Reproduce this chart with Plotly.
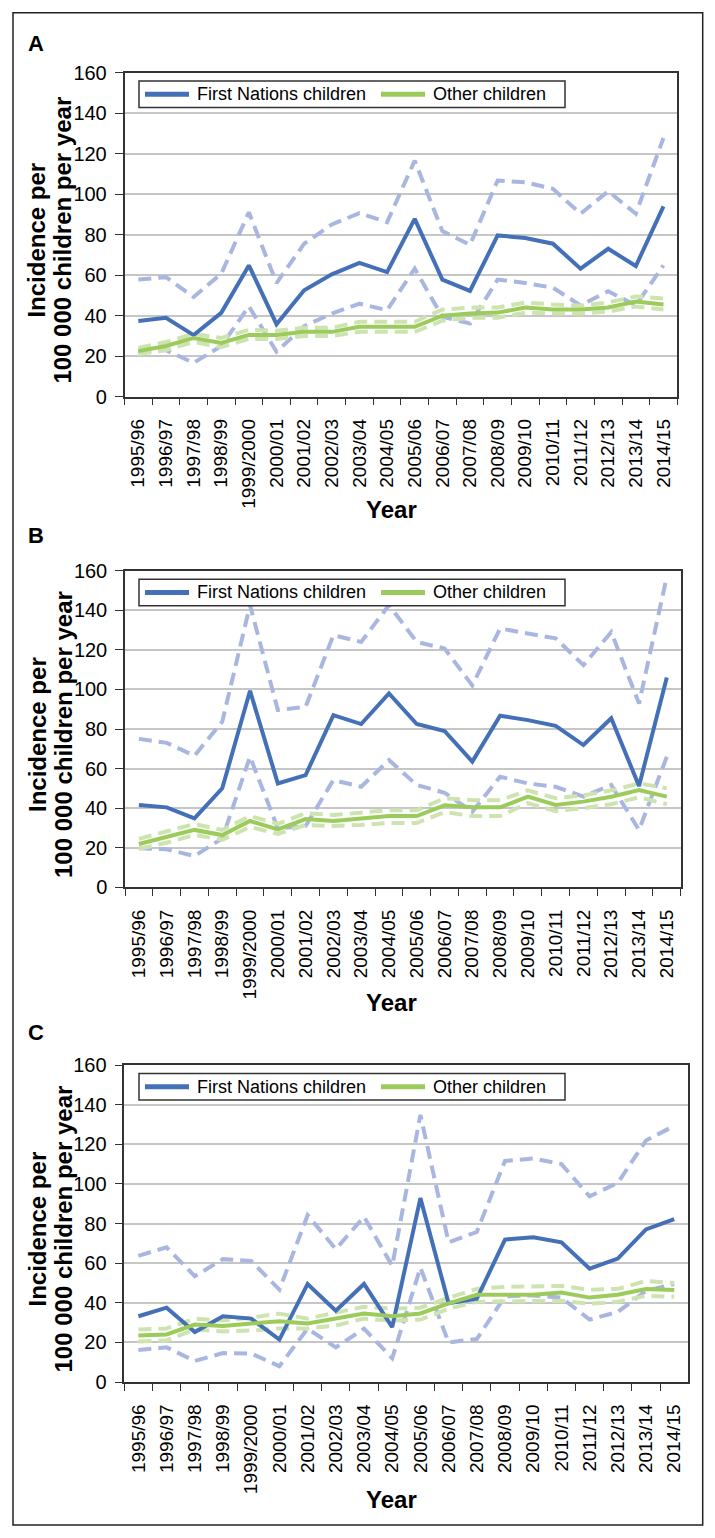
import plotly.graph_objects as go

W, H = 715, 1538
OFF = 8  # the page body margin shifts the figure by 8px

years = ["1995/96", "1996/97", "1997/98", "1998/99", "1999/2000", "2000/01",
         "2001/02", "2002/03", "2003/04", "2004/05", "2005/06", "2006/07",
         "2007/08", "2008/09", "2009/10", "2010/11", "2011/12", "2012/13",
         "2013/14", "2014/15"]
y_ticks = [0, 20, 40, 60, 80, 100, 120, 140, 160]

# Panel A
fn_a = [37.4, 38.9, 30.4, 41.4, 64.8, 35.8, 52.5, 60.4, 66.0, 61.5,
        87.8, 57.8, 52.2, 79.6, 78.3, 75.5, 63.2, 73.0, 64.5, 93.9]
fn_a_hi = [57.8, 59.0, 49.2, 60.7, 91.0, 56.1, 75.5, 85.0, 90.6, 86.1,
           116.5, 81.7, 75.0, 106.7, 105.8, 102.6, 90.3, 101.4, 90.3, 127.7]
fn_a_lo = [22.2, 23.0, 16.7, 25.0, 44.6, 22.2, 34.8, 41.0, 45.9, 42.7,
           63.2, 39.4, 36.1, 57.8, 56.1, 53.8, 45.1, 52.0, 45.1, 64.8]
oth_a = [22.5, 25.0, 29.0, 26.5, 30.5, 30.5, 32.0, 32.0, 34.5, 34.5,
         34.5, 40.0, 41.0, 41.5, 44.0, 43.0, 43.0, 44.0, 47.0, 45.5]
oth_a_hi = [24.0, 27.0, 31.0, 29.0, 33.0, 32.5, 34.0, 34.0, 37.0, 37.0,
            37.0, 43.0, 44.0, 44.0, 46.5, 45.5, 45.0, 46.5, 49.5, 48.5]
oth_a_lo = [21.0, 23.0, 27.0, 24.5, 28.5, 28.5, 30.0, 30.0, 32.0, 32.0,
            32.0, 37.5, 39.0, 39.0, 41.5, 41.0, 41.0, 42.0, 44.5, 43.0]

# Panel B
fn_b = [41.6, 40.4, 34.8, 50.0, 99.3, 52.5, 56.7, 87.0, 82.5, 98.0,
        82.5, 79.0, 63.5, 86.7, 84.5, 81.6, 71.9, 85.4, 51.2, 106.0]
fn_b_hi = [75.0, 73.0, 66.5, 83.7, 142.6, 89.6, 91.2, 127.4, 124.0, 142.6,
           124.0, 120.7, 102.0, 130.8, 128.3, 125.8, 112.3, 129.0, 92.9, 157.0]
fn_b_lo = [19.7, 19.2, 15.8, 24.7, 66.0, 29.8, 31.0, 54.2, 50.8, 64.3,
           51.7, 47.8, 38.2, 55.9, 52.5, 50.8, 45.8, 51.7, 29.0, 66.0]
oth_b = [21.9, 25.3, 29.0, 26.4, 33.5, 29.3, 34.5, 33.5, 34.5, 36.0,
         36.0, 41.4, 40.4, 40.4, 45.8, 41.6, 43.3, 45.8, 49.2, 45.8]
oth_b_hi = [24.5, 28.0, 32.0, 29.0, 36.0, 32.0, 37.5, 36.5, 38.0, 39.0,
            39.0, 45.0, 44.0, 44.0, 49.0, 45.0, 46.5, 49.0, 52.5, 50.0]
oth_b_lo = [19.5, 22.5, 26.5, 24.0, 30.5, 27.0, 31.5, 31.0, 31.5, 32.5,
            32.5, 38.0, 36.0, 36.0, 42.5, 38.5, 40.0, 42.0, 45.5, 42.0]

# Panel C
fn_c = [33.2, 37.5, 25.2, 33.2, 32.0, 21.4, 49.5, 36.0, 49.5, 27.7,
        92.8, 39.7, 42.0, 71.9, 73.1, 70.5, 57.2, 62.3, 77.0, 82.2]
fn_c_hi = [63.7, 68.0, 53.4, 62.0, 61.1, 46.6, 84.2, 67.1, 83.4, 58.6,
           134.8, 70.5, 75.7, 111.6, 112.8, 110.0, 93.7, 100.5, 121.9, 129.3]
fn_c_lo = [16.1, 17.5, 10.6, 14.6, 14.4, 8.0, 26.9, 17.5, 26.9, 12.0,
           57.7, 20.0, 21.7, 43.2, 43.7, 42.6, 31.5, 35.4, 46.0, 49.5]
oth_c = [23.5, 24.0, 29.0, 28.3, 29.5, 30.6, 29.5, 32.0, 34.6, 33.2,
         34.6, 39.7, 44.0, 44.0, 44.0, 45.2, 42.6, 44.0, 46.9, 46.4]
oth_c_hi = [26.5, 27.0, 32.0, 31.0, 32.5, 34.5, 32.0, 35.0, 38.0, 37.0,
            37.5, 42.5, 47.0, 48.0, 48.0, 48.5, 46.5, 47.0, 51.0, 50.0]
oth_c_lo = [20.5, 21.0, 26.5, 25.5, 26.0, 27.0, 27.0, 28.5, 32.0, 31.0,
            31.5, 37.0, 40.5, 40.5, 40.5, 41.0, 39.5, 40.5, 43.5, 43.0]

panels = [
    ("A", fn_a, fn_a_hi, fn_a_lo, oth_a, oth_a_hi, oth_a_lo),
    ("B", fn_b, fn_b_hi, fn_b_lo, oth_b, oth_b_hi, oth_b_lo),
    ("C", fn_c, fn_c_hi, fn_c_lo, oth_c, oth_c_hi, oth_c_lo),
]

# pixel boxes of each plot area (page coords): left, right, top, bottom
boxes = [(124.5, 677.3, 72.5, 396.7),
         (125.0, 680.7, 570.7, 887.3),
         (124.3, 688.3, 1065.0, 1382.0)]
label_y = [43, 535, 1032]
year_y = [509, 1003, 1499]

BLUE = "#4470B8"
BLUE_CI = "#A9B6E0"
GREEN = "#9BCB5B"
GREEN_CI = "#CDE4B0"
FONT = "Arial, Liberation Sans, sans-serif"


def px(x):
    return (x - OFF) / W


def py(y):
    return 1 - (y - OFF) / H


fig = go.Figure()
layout = dict(width=W, height=H, margin=dict(l=0, r=0, t=0, b=0, pad=0),
              paper_bgcolor="white", plot_bgcolor="white",
              showlegend=False, font=dict(family=FONT, color="black"))
annotations = []
shapes = []

for i, (name, fn, fn_hi, fn_lo, oth, oth_hi, oth_lo) in enumerate(panels):
    sfx = "" if i == 0 else str(i + 1)
    xa, ya = "x" + sfx, "y" + sfx
    left, right, top, bottom = boxes[i]

    for vals, col in [(fn_hi, BLUE_CI), (fn_lo, BLUE_CI),
                      (oth_hi, GREEN_CI), (oth_lo, GREEN_CI)]:
        fig.add_trace(go.Scatter(x=years, y=vals, mode="lines", xaxis=xa, yaxis=ya,
                                 line=dict(color=col, width=4, dash="13px,7px")))
    fig.add_trace(go.Scatter(x=years, y=fn, mode="lines", xaxis=xa, yaxis=ya,
                             name="First Nations children",
                             line=dict(color=BLUE, width=4)))
    fig.add_trace(go.Scatter(x=years, y=oth, mode="lines", xaxis=xa, yaxis=ya,
                             name="Other children",
                             line=dict(color=GREEN, width=4)))

    layout["xaxis" + sfx] = dict(
        domain=[px(left), px(right)], anchor=ya, type="category",
        range=[-0.5, len(years) - 0.5], tickson="boundaries",
        ticks="outside", ticklen=7, tickcolor="#333", tickwidth=1.2,
        tickangle=-90, tickfont=dict(size=19, family=FONT),
        ticklabelstandoff=13, automargin=False,
        showline=True, linecolor="#333", linewidth=1.5, mirror=True,
        showgrid=False, zeroline=False)
    layout["yaxis" + sfx] = dict(
        domain=[py(bottom), py(top)], anchor=xa, range=[0, 160],
        tickvals=y_ticks, ticks="outside", ticklen=8, tickcolor="#333",
        tickwidth=1.2, tickfont=dict(size=20, family=FONT),
        ticklabelstandoff=4, automargin=False,
        showline=True, linecolor="#333", linewidth=1.5, mirror=True,
        showgrid=True, gridcolor="#C6C6C6", gridwidth=2, zeroline=False)

    # panel letter
    annotations.append(dict(text="<b>%s</b>" % name, x=px(36), y=py(label_y[i]),
                            xref="paper", yref="paper", showarrow=False,
                            xanchor="center", yanchor="middle",
                            font=dict(size=22, family=FONT)))
    # y title, two lines
    for txt, tx in [("Incidence per", 37), ("100 000 children per year", 63)]:
        annotations.append(dict(text="<b>%s</b>" % txt,
                                x=px(tx), y=py((top + bottom) / 2 + 6),
                                xref="paper", yref="paper", showarrow=False,
                                xanchor="center", yanchor="middle",
                                textangle=-90, font=dict(size=24, family=FONT)))
    # x title
    annotations.append(dict(text="<b>Year</b>", x=px(391), y=py(year_y[i]),
                            xref="paper", yref="paper", showarrow=False,
                            xanchor="center", yanchor="middle",
                            font=dict(size=24, family=FONT)))

    # legend box drawn by hand
    lx0, lx1 = 139, 565
    ly0, ly1 = top + 8.5, top + 35
    lyc = (ly0 + ly1) / 2
    shapes.append(dict(type="rect", xref="paper", yref="paper",
                       x0=px(lx0), x1=px(lx1), y0=py(ly0), y1=py(ly1),
                       line=dict(color="#333", width=1.5), fillcolor="white"))
    for x0, x1, col, txt, tx in [(145, 189, BLUE, "First Nations children", 195),
                                 (381, 425, GREEN, "Other children", 431)]:
        shapes.append(dict(type="line", xref="paper", yref="paper",
                           x0=px(x0), x1=px(x1), y0=py(lyc), y1=py(lyc),
                           line=dict(color=col, width=5)))
        annotations.append(dict(text=txt, x=px(tx), y=py(lyc), xref="paper",
                                yref="paper", xanchor="left", yanchor="middle",
                                showarrow=False, font=dict(size=18, family=FONT)))

# outer frame
shapes.append(dict(type="rect", xref="paper", yref="paper",
                   x0=px(13), x1=px(702.7), y0=py(1525), y1=py(12.7),
                   line=dict(color="#222", width=1.5), layer="below"))

layout["annotations"] = annotations
layout["shapes"] = shapes
fig.update_layout(**layout)
fig.write_html("out.html")
